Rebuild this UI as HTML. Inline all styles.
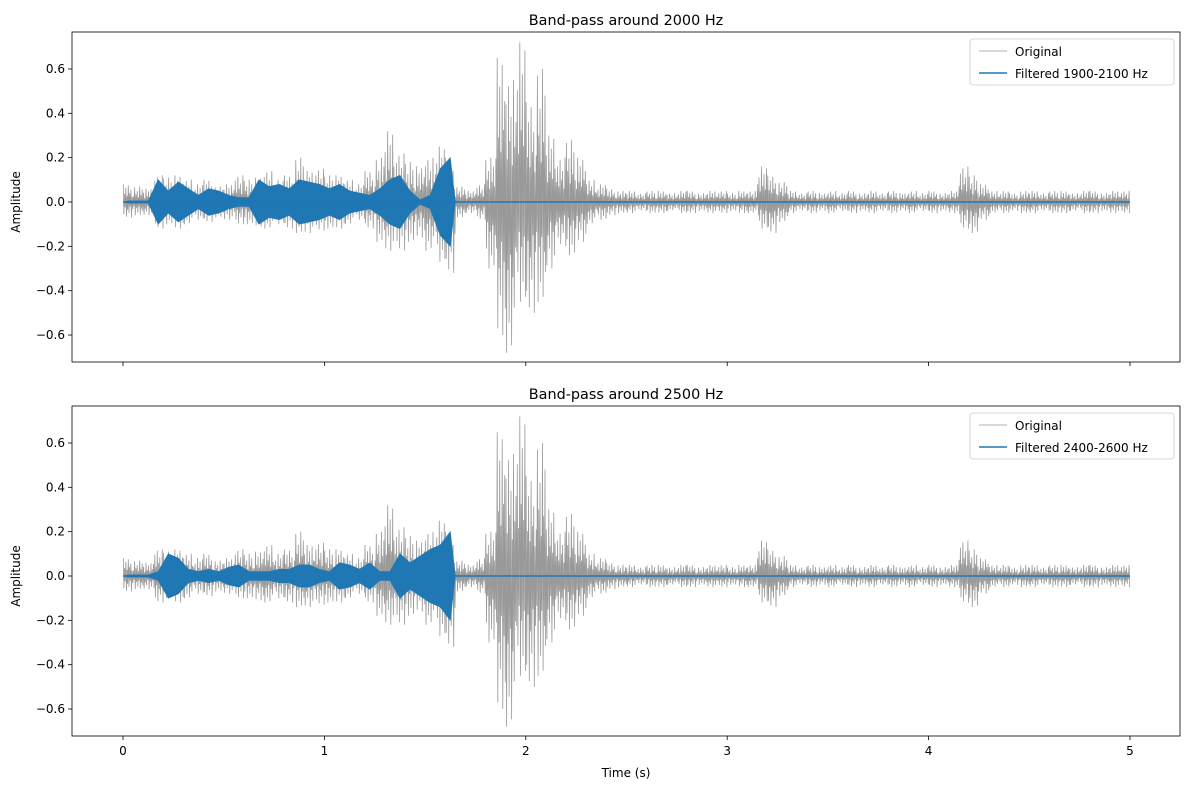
<!DOCTYPE html>
<html><head><meta charset="utf-8"><style>
body{margin:0;background:#fff;font-family:"Liberation Sans","DejaVu Sans",sans-serif;}
svg text{font-family:"DejaVu Sans","Liberation Sans",sans-serif;font-size:12px;fill:#000}
</style></head><body>
<svg id="c" width="1189" height="790" xmlns="http://www.w3.org/2000/svg"></svg>
<script>
const binWidth = 0.05;
const origUpper = [0.08,0.07,0.06,0.12,0.11,0.12,0.10,0.08,0.10,0.07,
 0.08,0.12,0.10,0.11,0.14,0.10,0.12,0.20,0.14,0.15,
 0.12,0.12,0.10,0.08,0.14,0.20,0.32,0.22,0.18,0.16,
 0.20,0.25,0.20,0.07,0.05,0.08,0.20,0.65,0.55,0.72,
 0.45,0.60,0.30,0.20,0.28,0.20,0.10,0.08,0.06,0.05,
 0.05,0.04,0.05,0.05,0.04,0.05,0.05,0.04,0.05,0.05,
 0.04,0.05,0.05,0.16,0.12,0.09,0.05,0.04,0.05,0.04,
 0.05,0.04,0.05,0.04,0.05,0.04,0.05,0.04,0.05,0.04,
 0.05,0.04,0.05,0.16,0.12,0.08,0.05,0.05,0.04,0.05,
 0.05,0.04,0.05,0.05,0.04,0.05,0.05,0.04,0.05,0.05];
const origLower = [-0.07,-0.06,-0.06,-0.12,-0.10,-0.12,-0.10,-0.08,-0.09,-0.07,
 -0.08,-0.10,-0.10,-0.11,-0.12,-0.10,-0.12,-0.14,-0.14,-0.13,
 -0.12,-0.12,-0.10,-0.08,-0.12,-0.18,-0.22,-0.22,-0.18,-0.16,
 -0.22,-0.27,-0.32,-0.07,-0.05,-0.08,-0.30,-0.60,-0.68,-0.45,
 -0.50,-0.45,-0.30,-0.20,-0.24,-0.18,-0.10,-0.08,-0.06,-0.05,
 -0.05,-0.04,-0.05,-0.05,-0.04,-0.05,-0.05,-0.04,-0.05,-0.05,
 -0.04,-0.05,-0.05,-0.12,-0.14,-0.09,-0.05,-0.04,-0.05,-0.04,
 -0.05,-0.04,-0.05,-0.04,-0.05,-0.04,-0.05,-0.04,-0.05,-0.04,
 -0.05,-0.04,-0.05,-0.12,-0.14,-0.08,-0.05,-0.05,-0.04,-0.05,
 -0.05,-0.04,-0.05,-0.05,-0.04,-0.05,-0.05,-0.04,-0.05,-0.05];
const filt2000 = [0.005,0.005,0.005,0.10,0.05,0.09,0.06,0.03,0.06,0.05,
 0.03,0.02,0.02,0.10,0.07,0.08,0.06,0.10,0.09,0.08,
 0.06,0.08,0.05,0.04,0.03,0.06,0.10,0.12,0.05,0.01,
 0.03,0.15,0.20];
const filt2500 = [0.005,0.005,0.005,0.02,0.10,0.08,0.03,0.02,0.03,0.02,
 0.04,0.05,0.02,0.02,0.02,0.03,0.03,0.05,0.05,0.03,
 0.02,0.06,0.05,0.03,0.06,0.02,0.02,0.10,0.06,0.09,
 0.12,0.14,0.20];
const yTicks = [-0.6,-0.4,-0.2,0.0,0.2,0.4,0.6];
const xTicks = [0,1,2,3,4,5];
// visual texture for the oscillation inside each bin (style, not data)
const wiggle=[1,0.45,0.8,0.35,0.95,0.5,0.7,0.3];
const panels = [
 {title:"Band-pass around 2000 Hz", label:"Filtered 1900-2100 Hz", filt:filt2000, top:32, showX:false, key:"2000"},
 {title:"Band-pass around 2500 Hz", label:"Filtered 2400-2600 Hz", filt:filt2500, top:406, showX:true, key:"2500"}
];
const NS="http://www.w3.org/2000/svg";
const svg=document.getElementById('c');
function mk(tag,attrs,parent){const e=document.createElementNS(NS,tag);for(const k in attrs)e.setAttribute(k,attrs[k]);(parent||svg).appendChild(e);return e;}
const L=72,R=1180,H=330;
const xs=t=>123+t*201.4;
panels.forEach(p=>{
 const g=mk('g',{});
 
 
 const y0=p.top+170;
 const ys=v=>y0-v*221.7;
 let d='';const n=wiggle.length;
 origUpper.forEach((u,i)=>{const t=i*binWidth;
  for(let k=0;k<n;k++){const f=wiggle[(k+i*3)%n];
   const ta=t+binWidth*(k+0.25)/n, tb=t+binWidth*(k+0.75)/n;
   d+=(i||k?'L':'M')+xs(ta).toFixed(1)+','+ys(u*f).toFixed(1)+'L'+xs(tb).toFixed(1)+','+ys(origLower[i]*wiggle[(k+i*5+2)%n]).toFixed(1);}
 });
 const orig=mk('path',{d:d,fill:'none',stroke:'#999',"stroke-width":0.8},g);
 
 
 let up='',lo='';
 p.filt.forEach((v,i)=>{const a=xs((i+0.5)*binWidth);up+=`L${a.toFixed(1)},${ys(v).toFixed(1)}`;lo=`L${a.toFixed(1)},${ys(-v).toFixed(1)}`+lo;});
 const xe=xs(p.filt.length*binWidth);
 const fa=mk('path',{d:'M'+xs(0)+','+y0+up+`L${xe},${y0}`+lo+'Z',fill:'#1f77b4',stroke:'#1f77b4','stroke-width':0.6},g);
 
 
 const fl=mk('line',{x1:xs(0),x2:xs(5),y1:y0,y2:y0,stroke:'#1f77b4','stroke-width':1.5},g);
 
 
 mk('rect',{x:L,y:p.top,width:R-L,height:H,fill:'none',stroke:'#000','stroke-width':0.8},g);
 yTicks.forEach(v=>{const y=ys(v);mk('line',{x1:L-4,x2:L,y1:y,y2:y,stroke:'#000','stroke-width':0.8},g);
  const t=mk('text',{x:L-7,y:y+4,'text-anchor':'end'},g);t.textContent=(v<0?'\u2212':'')+Math.abs(v).toFixed(1);
  });
 xTicks.forEach(v=>{const x=xs(v);mk('line',{x1:x,x2:x,y1:p.top+H,y2:p.top+H+4,stroke:'#000','stroke-width':0.8},g);
  if(p.showX){const t=mk('text',{x:x,y:p.top+H+19,'text-anchor':'middle'},g);t.textContent=v;
  }});
 const tt=mk('text',{x:626,y:p.top-7,'text-anchor':'middle',style:'font-size:14.4px'},g);tt.textContent=p.title;
 
 const yl=mk('text',{x:20,y:y0,'text-anchor':'middle',transform:`rotate(-90 20 ${y0})`},g);yl.textContent='Amplitude';
 
 const lg=mk('g',{},g);
 
 mk('rect',{x:970,y:p.top+7,width:204,height:46,rx:3,fill:'#fff',stroke:'#ccc','stroke-width':0.8},lg);
 mk('line',{x1:979,x2:1007,y1:p.top+19,y2:p.top+19,stroke:'#999','stroke-width':0.8},lg);
 const t1=mk('text',{x:1015,y:p.top+24},lg);t1.textContent='Original';
 
 mk('line',{x1:979,x2:1007,y1:p.top+41,y2:p.top+41,stroke:'#1f77b4','stroke-width':1.5},lg);
 const t2=mk('text',{x:1015,y:p.top+46},lg);t2.textContent=p.label;
 
});
const xl=mk('text',{x:626,y:777,'text-anchor':'middle'});xl.textContent='Time (s)';


</script>
</body></html>
